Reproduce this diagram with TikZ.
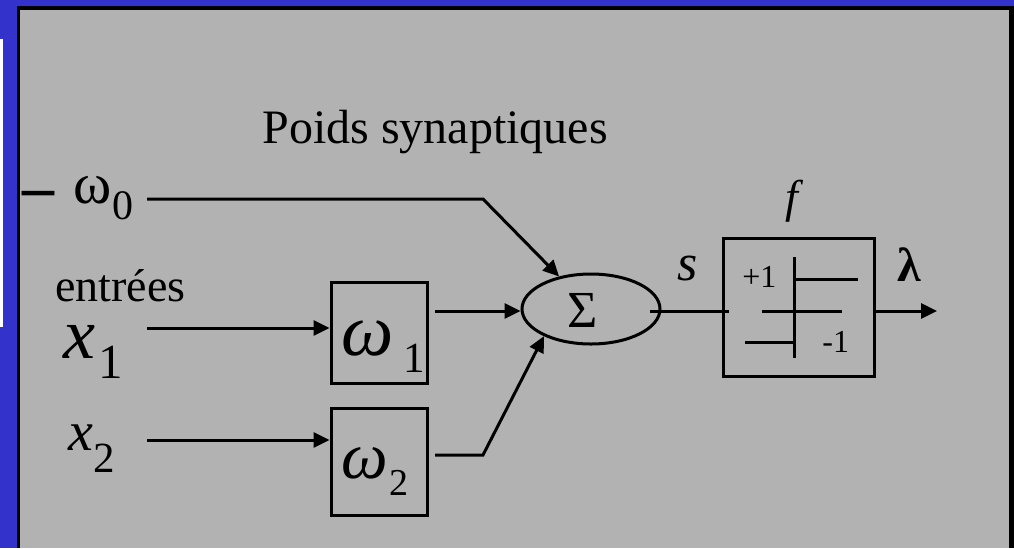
\documentclass[tikz,border=0pt]{standalone}
\usepackage{fontspec}
\setmainfont{Liberation Serif}[ItalicFont={Liberation Serif Italic},BoldFont={Liberation Serif Bold}]
\usetikzlibrary{arrows.meta,shapes.geometric,calc}
\definecolor{slideblue}{RGB}{51,51,204}
\definecolor{panelgray}{RGB}{178,178,178}
\newcommand{\fs}[1]{\fontsize{#1}{#1}\selectfont}

\begin{document}
\begin{tikzpicture}[x=0.5pt,y=-0.5pt,
  lbl/.style={inner sep=0pt,anchor=base west},
  wire/.style={line width=1.5pt},
  arr/.style={wire,-{Triangle[length=8pt,width=7.5pt]}},
  wbox/.style={draw,line width=1.5pt,minimum width=48pt,inner sep=0pt},
]
\useasboundingbox (0,0) rectangle (1014,548);
% slide background and panel
\fill[slideblue] (0,0) rectangle (1014,548);
\fill[white] (0,39) rectangle (3,327);
\fill[black] (17,6) rectangle (1014,548);
\fill[panelgray] (19.5,9.5) rectangle (1009,548);

% labels
\node[lbl] (title) at (262,143) {\fs{24pt}Poids synaptiques};
\node[lbl] (minus) at (22,208) {\fs{32pt}\bfseries –};
\node[lbl] (w0) at (73,203) {\fs{29pt}ω\kern0.5pt\raisebox{-8pt}{\fs{21pt}0}};
\node[lbl] (entrees) at (55,301) {\fs{23pt}entrées};
\node[lbl] (x1) at (63,358) {\fs{36pt}\itshape x\kern1.5pt\raisebox{-10pt}{\fs{24.5pt}\upshape 1}};
\node[lbl] (x2) at (68,450) {\fs{28pt}\itshape x\raisebox{-11pt}{\fs{21.5pt}\upshape 2}};

% weight boxes
\node[wbox,minimum height=50.5pt] (w1) at (379,332.5) {};
\node[lbl] (w1t) at (341,355) {\fs{37pt}\itshape ω\kern5pt\raisebox{-8.5pt}{\fs{21.5pt}\upshape 1}};
\node[wbox,minimum height=53.5pt] (w2) at (379,461.5) {};
\node[lbl] (w2t) at (341,478) {\fs{33pt}\itshape ω\kern1pt\raisebox{-8.5pt}{\fs{19pt}\upshape 2}};

% summation
\node[draw,ellipse,wire,minimum width=69pt,minimum height=35pt,inner sep=0pt] (sum) at (591,309) {};
\node[inner sep=0pt] (sig) at (583,310.5) {\fs{26pt}Σ};
\node[lbl] (s) at (677,280) {\fs{26pt}\itshape s};

% activation function
\node[wbox,minimum width=75.5pt,minimum height=69pt] (fbox) at (798.5,307) {};
\node[lbl] (f) at (785,212) {\fs{23pt}\itshape f};
\node[lbl] (plus) at (742,287) {\fs{16pt}+1};
\node[lbl] (mone) at (822,352) {\fs{16pt}-1};
\node[lbl] (lam) at (897,281) {\fs{24pt}\bfseries λ};
\draw[wire] (794,257) -- (794,358);
\draw[wire] (794,279) -- (858,279);
\draw[wire] (762,311) -- (842,311);
\draw[wire] (745,342) -- (794,342);

% connectors
\coordinate (a1) at (147,328);
\draw[arr] (a1) -- (a1 -| w1.west);
\coordinate (a2) at (147,440);
\draw[arr] (a2) -- (a2 -| w2.west);
\coordinate (b0) at (147,199);
\coordinate (k0) at (483,199);
\draw[arr] (b0) -- (k0) -- (sum);
\coordinate (o1) at (435,311);
\draw[arr] (o1) -- (o1 -| sum.west);
\coordinate (o2) at (435,455);
\coordinate (k2) at (483,455);
\draw[arr] (o2) -- (k2) -- (sum.210);
\coordinate (si) at (650,311);
\draw[wire] (si) -- ($(fbox.west|-si)+(3.5pt,0)$);
\coordinate (out) at (937,311);
\draw[arr] (fbox.east|-out) -- (out);
\end{tikzpicture}
\end{document}
